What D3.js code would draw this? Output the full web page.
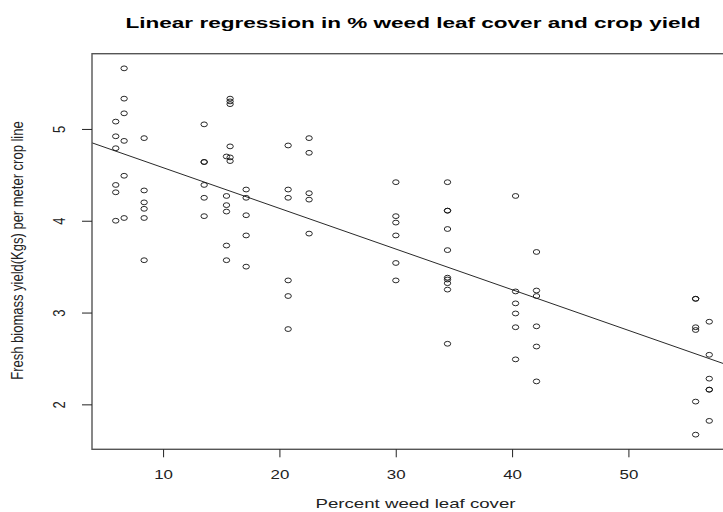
<!DOCTYPE html>
<html>
<head>
<meta charset="utf-8">
<script src="https://cdn.jsdelivr.net/npm/d3@7"></script>
<style>
  body { margin: 0; background: #fff; }
  svg { display: block; font-family: Arial, "Liberation Sans", sans-serif; }
</style>
</head>
<body>
<div id="chart"></div>
<script>
// percent weed leaf cover for each plot
const cover = [
  5.93, 5.93, 5.93, 5.93, 5.93, 5.93,
  6.65, 6.65, 6.65, 6.65, 6.65, 6.65,
  8.37, 8.37, 8.37, 8.37, 8.37, 8.37,
  13.53, 13.53, 13.53, 13.53, 13.53, 13.53,
  15.45, 15.45, 15.45, 15.45, 15.45, 15.45,
  15.76, 15.76, 15.76, 15.76, 15.76, 15.76,
  17.14, 17.14, 17.14, 17.14, 17.14,
  20.75, 20.75, 20.75, 20.75, 20.75, 20.75,
  22.55, 22.55, 22.55, 22.55, 22.55,
  30.01, 30.01, 30.01, 30.01, 30.01, 30.01,
  34.45, 34.45, 34.45, 34.45, 34.45, 34.45, 34.45, 34.45, 34.45, 34.45,
  40.3, 40.3, 40.3, 40.3, 40.3, 40.3,
  42.1, 42.1, 42.1, 42.1, 42.1, 42.1,
  55.78, 55.78, 55.78, 55.78, 55.78, 55.78,
  56.95, 56.95, 56.95, 56.95, 56.95, 56.95
]

// fresh biomass yield (kg) per meter crop line
const biomass = [
  5.08, 4.92, 4.79, 4.39, 4.31, 4.00,
  5.66, 5.33, 5.17, 4.87, 4.49, 4.03,
  4.90, 4.33, 4.20, 4.13, 4.03, 3.57,
  5.05, 4.64, 4.64, 4.39, 4.25, 4.05,
  4.70, 4.27, 4.17, 4.10, 3.73, 3.57,
  5.33, 5.30, 5.27, 4.81, 4.69, 4.65,
  4.34, 4.25, 4.06, 3.84, 3.50,
  4.82, 4.34, 4.25, 3.35, 3.18, 2.82,
  4.90, 4.74, 4.30, 4.23, 3.86,
  4.42, 4.05, 3.98, 3.84, 3.54, 3.35,
  4.42, 4.11, 4.11, 3.91, 3.68, 3.38, 3.36, 3.32, 3.25, 2.66,
  4.27, 3.23, 3.10, 2.99, 2.84, 2.49,
  3.66, 3.24, 3.18, 2.85, 2.63, 2.25,
  3.15, 3.15, 2.84, 2.81, 2.03, 1.67,
  2.90, 2.54, 2.28, 2.16, 2.16, 1.82
]

// fitted line
const intercept = 5.021
const slope = -0.0443

const xTicks = [10, 20, 30, 40, 50]
const yTicks = [2, 3, 4, 5]

const title = 'Linear regression in % weed leaf cover and crop yield'
const xTitle = 'Percent weed leaf cover'
const yTitle = 'Fresh biomass yield(Kgs) per meter crop line'

const width = 723, height = 512
const plot = { left: 92, right: 733, top: 53.7, bottom: 449.3 }
const stretch = 1.3

const data = cover.map((c, i) => ({ cover: c, biomass: biomass[i] }))

function padded(ext) {
  const d = (ext[1] - ext[0]) * 0.04
  return [ext[0] - d, ext[1] + d]
}

const x = d3.scaleLinear()
    .domain(padded(d3.extent(cover)))
    .range([plot.left, plot.right])
const y = d3.scaleLinear()
    .domain(padded(d3.extent(biomass)))
    .range([plot.bottom, plot.top])

const svg = d3.select('#chart').append('svg')
    .attr('width', width)
    .attr('height', height)

svg.append('defs').append('clipPath')
    .attr('id', 'clip')
  .append('rect')
    .attr('x', plot.left)
    .attr('y', plot.top)
    .attr('width', plot.right - plot.left)
    .attr('height', plot.bottom - plot.top)

// regression line
const xd = x.domain()
svg.append('line')
    .attr('clip-path', 'url(#clip)')
    .attr('x1', x(xd[0]))
    .attr('y1', y(intercept + slope * xd[0]))
    .attr('x2', x(xd[1]))
    .attr('y2', y(intercept + slope * xd[1]))
    .attr('stroke', '#111')
    .attr('stroke-width', 0.9)

// points
svg.append('g')
    .attr('fill', 'none')
    .attr('stroke', '#111')
    .attr('stroke-width', 0.9)
  .selectAll('ellipse')
  .data(data)
  .enter().append('ellipse')
    .attr('cx', d => x(d.cover))
    .attr('cy', d => y(d.biomass))
    .attr('rx', 3.2)
    .attr('ry', 2.4)

// box
svg.append('rect')
    .attr('x', plot.left)
    .attr('y', plot.top)
    .attr('width', plot.right - plot.left)
    .attr('height', plot.bottom - plot.top)
    .attr('fill', 'none')
    .attr('stroke', '#555')
    .attr('stroke-width', 1.4)

// x axis
const gx = svg.append('g')
    .attr('transform', 'translate(0,' + plot.bottom + ')')
    .call(d3.axisBottom(x).tickValues(xTicks).tickSize(8).tickFormat(d3.format('d')))
gx.select('.domain').remove()
gx.selectAll('.tick line').attr('stroke', '#222')
gx.selectAll('.tick text')
    .attr('y', 0)
    .attr('dy', null)
    .attr('fill', '#222')
    .attr('font-size', 13)
    .attr('font-family', 'Arial, "Liberation Sans", sans-serif')
    .attr('transform', 'translate(0,29.7) scale(' + stretch + ',1)')

// y axis
const gy = svg.append('g')
    .attr('transform', 'translate(' + plot.left + ',0)')
    .call(d3.axisLeft(y).tickValues(yTicks).tickSize(10).tickFormat(d3.format('d')))
gy.select('.domain').remove()
gy.selectAll('.tick line').attr('stroke', '#222')
gy.selectAll('.tick text')
    .attr('x', 0)
    .attr('y', 0)
    .attr('dy', null)
    .attr('fill', '#222')
    .attr('text-anchor', 'middle')
    .attr('font-size', 13)
    .attr('font-family', 'Arial, "Liberation Sans", sans-serif')
    .attr('transform', 'translate(-27,0) scale(' + stretch + ',1) rotate(-90)')

// titles
svg.append('text')
    .attr('x', 413)
    .attr('y', 28.3)
    .attr('text-anchor', 'middle')
    .attr('font-size', 14)
    .attr('font-weight', 'bold')
    .attr('fill', '#000')
    .attr('textLength', 575)
    .attr('lengthAdjust', 'spacingAndGlyphs')
    .text(title)

svg.append('text')
    .attr('x', 415.5)
    .attr('y', 507.5)
    .attr('text-anchor', 'middle')
    .attr('font-size', 13)
    .attr('fill', '#222')
    .attr('textLength', 200)
    .attr('lengthAdjust', 'spacingAndGlyphs')
    .text(xTitle)

svg.append('text')
    .attr('transform', 'translate(22.5,250.5) scale(' + stretch + ',1) rotate(-90)')
    .attr('text-anchor', 'middle')
    .attr('font-size', 13)
    .attr('fill', '#222')
    .text(yTitle)
</script>
</body>
</html>
